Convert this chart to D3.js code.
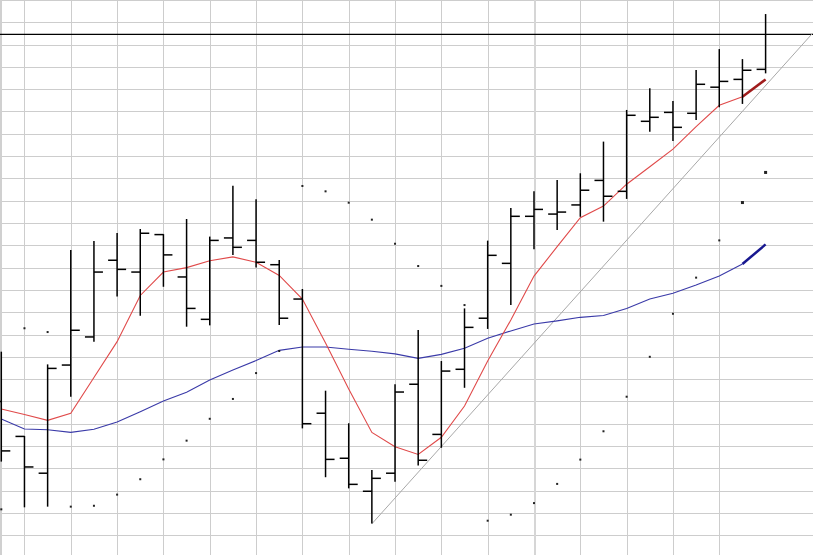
<!DOCTYPE html>
<html>
<head>
<meta charset="utf-8">
<script src="https://cdn.jsdelivr.net/npm/d3@7"></script>
<style>
  html, body { margin: 0; padding: 0; background: #fff; overflow: hidden; }
  svg { display: block; }
</style>
</head>
<body>
<svg id="chart" width="813" height="555"></svg>
<script>
// ---- data (price units; one unit per horizontal grid step) ----
const periods = d3.range(34);               // bar index 0..33
const openV  = [7.00,5.43,3.78,8.63,9.89,13.33,12.80,14.48,12.58,10.68,14.33,14.22,13.13,11.59,6.47,4.45,2.97,3.78,7.77,5.52,8.44,10.73,13.19,15.30,15.40,15.81,16.91,16.42,19.56,19.96,19.92,21.09,21.44,21.89];
const highV  = [9.23,5.45,8.66,13.79,14.19,14.55,14.73,14.50,15.18,14.39,16.67,16.06,13.34,12.04,7.48,6.02,3.92,7.77,10.20,8.81,11.17,14.21,15.67,16.42,16.93,17.23,18.65,20.07,21.04,20.47,21.86,22.80,22.35,24.37];
const lowV   = [4.30,2.25,2.28,7.21,9.68,11.70,10.84,12.14,10.35,10.41,13.57,13.01,10.43,5.79,3.60,3.10,1.53,3.40,4.12,4.92,7.61,10.25,11.32,13.82,14.69,15.28,15.06,16.08,19.09,18.68,19.62,20.19,20.34,21.71];
const closeV = [4.78,4.06,8.48,10.19,12.80,12.92,14.54,13.57,11.17,14.22,13.91,13.24,10.73,6.00,4.40,3.28,3.55,7.42,4.36,8.36,10.32,13.55,15.30,15.61,15.49,16.47,16.20,19.83,19.74,19.29,21.22,21.35,21.85,null];
const fastMA = [6.66,6.41,6.15,6.47,8.07,9.68,11.75,12.80,13.00,13.31,13.48,13.24,12.65,11.59,9.62,7.56,5.61,4.97,4.62,5.39,6.79,8.81,10.65,12.62,13.94,15.24,15.76,16.74,17.52,18.31,19.32,20.28,20.66,21.44];
const slowMA = [6.21,5.76,5.73,5.61,5.75,6.08,6.54,7.02,7.41,7.96,8.41,8.83,9.29,9.44,9.44,9.34,9.25,9.13,8.93,9.11,9.38,9.83,10.16,10.47,10.61,10.77,10.85,11.17,11.59,11.85,12.22,12.62,13.16,14.04];
const sarV   = [2.16,10.28,10.11,2.28,2.32,2.82,3.51,4.40,5.24,6.22,7.11,8.27,9.26,16.66,16.42,15.91,15.15,14.07,13.07,12.18,11.32,1.65,1.92,2.44,3.30,4.39,5.66,7.21,9.00,10.93,12.55,14.22,15.94,17.29];
const resistanceLevel = 23.46;
const trendStart = [16, 1.51];
const trendEnd   = [35.03, 23.51];
const gridValues = d3.range(1, 26);          // horizontal grid every 1 unit
const gridPeriods = d3.range(1, 32, 2);      // vertical grid every 2 bars

const W = 813, H = 555;
const svg = d3.select("#chart");

const x = d3.scaleLinear().domain([0, 33]).range([1.3, 765.6]);
const y = d3.scaleLinear().domain([0, 25]).range([557.5, 0]);

svg.append("rect").attr("width", W).attr("height", H).attr("fill", "#fff");

// grid
const g = svg.append("g").attr("shape-rendering", "crispEdges");
g.selectAll(".hg").data(gridValues).join("line")
  .attr("x1", 0).attr("x2", W)
  .attr("y1", d => Math.round(y(d)) + 0.5).attr("y2", d => Math.round(y(d)) + 0.5)
  .attr("stroke", "#cdcdcd").attr("stroke-width", 1);
g.selectAll(".vg").data(gridPeriods).join("line")
  .attr("x1", d => Math.round(x(d)) + 0.5).attr("x2", d => Math.round(x(d)) + 0.5)
  .attr("y1", 0).attr("y2", H)
  .attr("stroke", d => d === 23 ? "#d6d6d6" : "#cdcdcd").attr("stroke-width", d => d === 23 ? 2 : 1);
g.append("line").attr("x1", 0.5).attr("x2", 0.5).attr("y1", 0).attr("y2", H)
  .attr("stroke", "#d0d0d0").attr("stroke-width", 2);

// resistance line
svg.append("line")
  .attr("x1", 0).attr("x2", W)
  .attr("y1", y(resistanceLevel)).attr("y2", y(resistanceLevel))
  .attr("stroke", "#000").attr("stroke-width", 1.3);

// trend line
svg.append("line")
  .attr("x1", x(trendStart[0])).attr("y1", y(trendStart[1]))
  .attr("x2", x(trendEnd[0])).attr("y2", y(trendEnd[1]))
  .attr("stroke", "#a8a8a8").attr("stroke-width", 1);

// moving averages
const line = d3.line().x((d, i) => x(i)).y(d => y(d));
function drawMA(vals, col, lastCol) {
  svg.append("path").datum(vals.slice(0, vals.length - 1))
    .attr("d", line).attr("fill", "none").attr("stroke", col).attr("stroke-width", 1.1);
  const n = vals.length;
  svg.append("line")
    .attr("x1", x(n - 2)).attr("y1", y(vals[n - 2]))
    .attr("x2", x(n - 1)).attr("y2", y(vals[n - 1]))
    .attr("stroke", lastCol).attr("stroke-width", 2.5);
}
drawMA(slowMA, "#3a3aa8", "#17178f");
drawMA(fastMA, "#e04a4a", "#a01c1c");

// OHLC bars
const bars = svg.append("g").attr("stroke", "#000").attr("stroke-width", 1.5);
periods.forEach(i => {
  const cx = x(i);
  bars.append("line").attr("x1", cx).attr("x2", cx).attr("y1", y(highV[i])).attr("y2", y(lowV[i]));
  bars.append("line").attr("x1", cx - 9).attr("x2", cx).attr("y1", y(openV[i])).attr("y2", y(openV[i]));
  if (closeV[i] != null)
    bars.append("line").attr("x1", cx).attr("x2", cx + 9).attr("y1", y(closeV[i])).attr("y2", y(closeV[i]));
});

// SAR dots
svg.append("g").selectAll("rect").data(sarV).join("rect")
  .attr("x", (d, i) => x(i) - (i >= 32 ? 1.5 : 1))
  .attr("y", d => y(d) - 1)
  .attr("width", (d, i) => i >= 32 ? 3 : 2)
  .attr("height", (d, i) => i >= 32 ? 3 : 2)
  .attr("fill", "#222");
</script>
</body>
</html>
